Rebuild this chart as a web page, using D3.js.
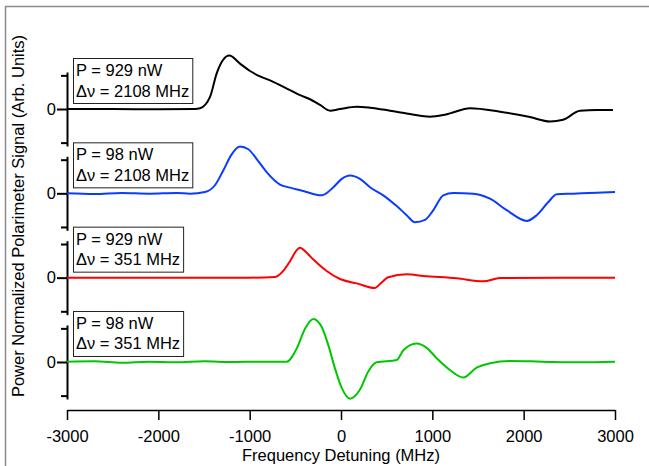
<!DOCTYPE html>
<html>
<head>
<meta charset="utf-8">
<script src="https://cdn.jsdelivr.net/npm/d3@7"></script>
<style>
  html, body { margin: 0; padding: 0; background: #fff; }
  svg { display: block; font-family: "Liberation Sans", Arial, sans-serif; }
</style>
</head>
<body>
<svg id="chart" width="649" height="466"></svg>
<script>
// ---- Data ----
const xTicks = [-3000, -2000, -1000, 0, 1000, 2000, 3000];
const yTicks = [-1, 0, 1];

const labelsP = ["P = 929 nW", "P = 98 nW", "P = 929 nW", "P = 98 nW"];
const labelsNu = ["\u0394\u03BD = 2108 MHz", "\u0394\u03BD = 2108 MHz", "\u0394\u03BD = 351 MHz", "\u0394\u03BD = 351 MHz"];

const blackFreq = [-3000, -2500, -2000, -1600, -1544, -1434, -1361, -1223, -1106, -996, -887, -777, -668, -558, -449, -339, -230, -120, -11, 172, 318, 537, 756, 974, 1117, 1193, 1412, 1741, 2069, 2288, 2431, 2617, 2800, 2978];
const blackVal  = [0, 0, -0.01, 0, 0.02, 0.36, 1.06, 1.59, 1.35, 1.13, 0.97, 0.85, 0.71, 0.56, 0.41, 0.29, 0.12, -0.05, 0, 0.07, 0.04, -0.05, -0.15, -0.23, -0.18, -0.13, 0.02, -0.08, -0.24, -0.37, -0.32, -0.05, -0.03, -0.03];

const blueFreq = [-3000, -2700, -2400, -2100, -1800, -1653, -1489, -1380, -1289, -1197, -1106, -1015, -923, -814, -668, -558, -413, -211, -84, 8, 99, 208, 318, 463, 610, 719, 810, 920, 1011, 1120, 1230, 1449, 1631, 1814, 2033, 2143, 2270, 2362, 2544, 2800, 3000];
const blueVal  = [0, -0.02, 0.01, -0.01, 0.01, -0.01, 0.04, 0.24, 0.68, 1.16, 1.39, 1.31, 1.02, 0.63, 0.26, 0.17, 0.07, -0.06, 0.18, 0.43, 0.53, 0.43, 0.18, -0.06, -0.38, -0.65, -0.86, -0.79, -0.50, -0.06, 0.01, -0.01, -0.16, -0.50, -0.82, -0.65, -0.26, -0.03, -0.01, 0.02, 0.04];

const redFreq = [-3000, -2000, -1000, -723, -632, -558, -485, -449, -376, -303, -157, -11, 172, 372, 427, 518, 719, 901, 1267, 1559, 1741, 2400, 3000];
const redVal  = [0, 0, 0, 0.02, 0.20, 0.49, 0.82, 0.89, 0.74, 0.54, 0.20, -0.04, -0.17, -0.31, -0.19, 0.01, 0.10, 0.05, -0.02, -0.11, -0.01, 0, 0];

const greenFreq = [-3000, -2700, -2400, -2100, -1800, -1500, -1200, -900, -595, -485, -394, -303, -211, -139, -66, 8, 99, 208, 299, 390, 610, 683, 829, 938, 1048, 1193, 1339, 1485, 1631, 1850, 2200, 2600, 3000];
const greenVal  = [0.01, 0.02, -0.02, 0.01, -0.01, 0.02, 0, 0.01, 0.01, 0.40, 0.99, 1.28, 1.04, 0.50, -0.19, -0.77, -1.09, -0.82, -0.28, -0.01, 0.06, 0.35, 0.55, 0.42, 0.11, -0.24, -0.46, -0.17, -0.04, 0.03, 0.01, -0.01, 0.01];

const traceFreqs = [blackFreq, blueFreq, redFreq, greenFreq];
const traceVals = [blackVal, blueVal, redVal, greenVal];
const traceColors = ["#000000", "#0a3cff", "#ff0000", "#00c800"];

// ---- Layout ----
const svg = d3.select("#chart");
const W = 649, H = 466;
const xLeft = 67, xRight = 615;
const panelTop0 = 72, panelStep = 84.33, panelH = 74;
const fontSize = 16.5;

// frame
svg.append("rect").attr("x", 5.5).attr("y", 6.5).attr("width", 700).attr("height", 500)
  .attr("fill", "none").attr("stroke", "#8a8a8a").attr("stroke-width", 1.5);

const x = d3.scaleLinear().domain([-3000, 3000]).range([xLeft, xRight]);

// x axis
const xAxisY = 410;
const xAxis = svg.append("g").attr("transform", `translate(0,${xAxisY})`)
  .call(d3.axisBottom(x).tickValues(xTicks).tickSize(10).tickSizeOuter(0).tickFormat(d => String(d)));
xAxis.select(".domain").attr("stroke", "#000").attr("stroke-width", 1.5);
xAxis.selectAll(".tick line").attr("stroke", "#000").attr("stroke-width", 1.5);
xAxis.selectAll(".tick text").attr("font-size", fontSize).attr("font-family", "Liberation Sans, Arial, sans-serif")
  .attr("fill", "#000").attr("y", 31.5).attr("dy", null);

svg.append("text").attr("x", (xLeft + xRight) / 2).attr("y", 461)
  .attr("text-anchor", "middle").attr("font-size", fontSize).attr("fill", "#000")
  .text("Frequency Detuning (MHz)");

svg.append("text").attr("transform", "translate(23.5,216) rotate(-90)")
  .attr("text-anchor", "middle").attr("font-size", fontSize).attr("fill", "#000")
  .text("Power Normalized Polarimeter Signal (Arb. Units)");

// panels
for (let i = 0; i < 4; i++) {
  const top = panelTop0 + i * panelStep;
  const y = d3.scaleLinear().domain([-1.1, 1.1]).range([top + panelH, top]);
  const g = svg.append("g");

  const ax = g.append("g").attr("transform", `translate(${xLeft},0)`)
    .call(d3.axisLeft(y).tickValues(yTicks).tickSize(6).tickSizeOuter(0)
      .tickFormat(d => d === 0 ? "0" : ""));
  ax.select(".domain").attr("stroke", "#000").attr("stroke-width", 2);
  ax.selectAll(".tick line").attr("stroke", "#000").attr("stroke-width", 2);
  ax.selectAll(".tick").filter(d => d === 0).select("line").attr("x2", -10);
  ax.selectAll(".tick text").attr("font-size", fontSize)
    .attr("font-family", "Liberation Sans, Arial, sans-serif").attr("fill", "#000")
    .attr("x", -11);

  const pts = traceFreqs[i].map((f, k) => [f, traceVals[i][k]]);
  const line = d3.line().x(d => x(d[0])).y(d => y(d[1])).curve(d3.curveMonotoneX);
  g.append("path").datum(pts).attr("d", line).attr("fill", "none")
    .attr("stroke", traceColors[i]).attr("stroke-width", 2).attr("stroke-linejoin", "round");

  // label box
  const zero = y(0);
  const bx = 73, by = zero - 51;
  const lg = g.append("g");
  const t1 = lg.append("text").attr("x", bx + 3).attr("y", by + 18).attr("font-size", fontSize)
    .attr("fill", "#000").text(labelsP[i]);
  const t2 = lg.append("text").attr("x", bx + 3).attr("y", by + 38.5).attr("font-size", fontSize)
    .attr("fill", "#000").text(labelsNu[i]);
  const w = Math.max(t1.node().getComputedTextLength(), t2.node().getComputedTextLength());
  lg.insert("rect", "text").attr("x", bx + 0.5).attr("y", by + 0.5).attr("width", w + 6).attr("height", 45)
    .attr("fill", "#fff").attr("stroke", "#222").attr("stroke-width", 1);
}
</script>
</body>
</html>
